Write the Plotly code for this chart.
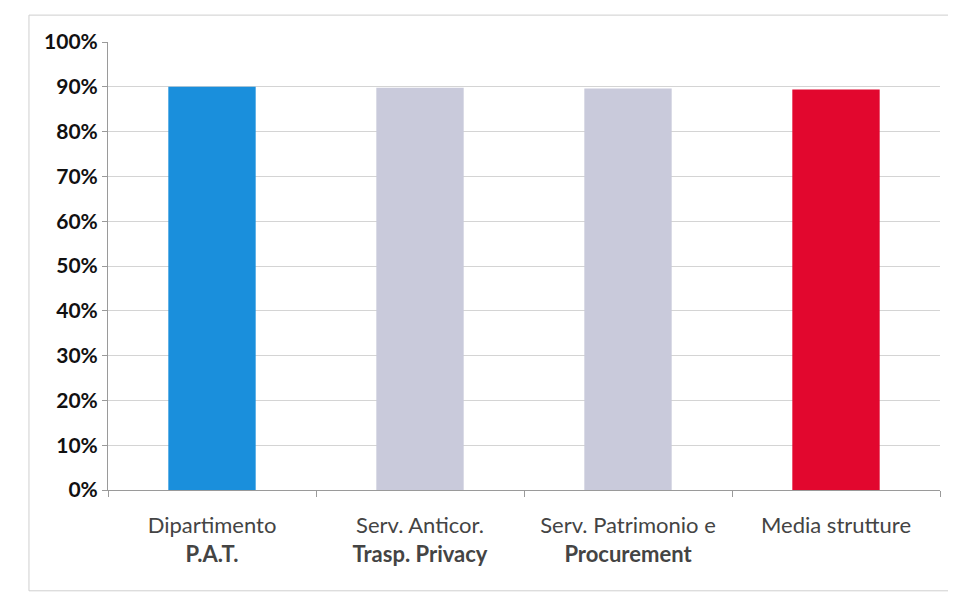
import plotly.graph_objects as go

categories = ["Dipartimento<br><b>P.A.T.</b>", "Serv. Anticor.<br><b>Trasp. Privacy</b>",
              "Serv. Patrimonio e<br><b>Procurement</b>", "Media strutture"]
values = [0.90, 0.898, 0.896, 0.894]
colors = ["#1a8fdc", "#c9cadb", "#c9cadb", "#e2072e"]
y_ticks = [0, 0.1, 0.2, 0.3, 0.4, 0.5, 0.6, 0.7, 0.8, 0.9, 1.0]
y_labels = ["0%", "10%", "20%", "30%", "40%", "50%", "60%", "70%", "80%", "90%", "100%"]

fig = go.Figure(go.Bar(x=categories, y=values, marker=dict(color=colors, line=dict(width=0)),
                       hoverinfo="skip"))

fig.update_layout(
    width=956, height=596,
    margin=dict(l=100, r=24, t=34, b=114),
    paper_bgcolor="white", plot_bgcolor="white",
    bargap=0.58,
    showlegend=False,
    font=dict(family="Lato, Open Sans, sans-serif", color="#222"),
    xaxis=dict(showline=True, linecolor="#9a9a9a", linewidth=1,
               ticks="outside", ticklen=6, tickcolor="#9a9a9a",
               tickson="boundaries", ticklabelstandoff=16,
               tickfont=dict(size=22, color="#444", family="Lato, sans-serif")),
    yaxis=dict(range=[0, 1.0], tickvals=y_ticks, ticktext=["<b>%s</b>" % t for t in y_labels],
               showgrid=True, gridcolor="#d4d4d4", gridwidth=1,
               showline=True, linecolor="#9a9a9a", linewidth=1,
               ticks="outside", ticklen=5, tickcolor="#9a9a9a",
               zeroline=False,
               tickfont=dict(size=21, color="#111", family="Lato, sans-serif")),
    shapes=[dict(type="rect", xref="paper", yref="paper", x0=-0.095, x1=1.02, y0=-0.225, y1=1.06,
                 line=dict(color="#cfcfcf", width=1), fillcolor="rgba(0,0,0,0)")],
)

fig.write_html("out.html")
